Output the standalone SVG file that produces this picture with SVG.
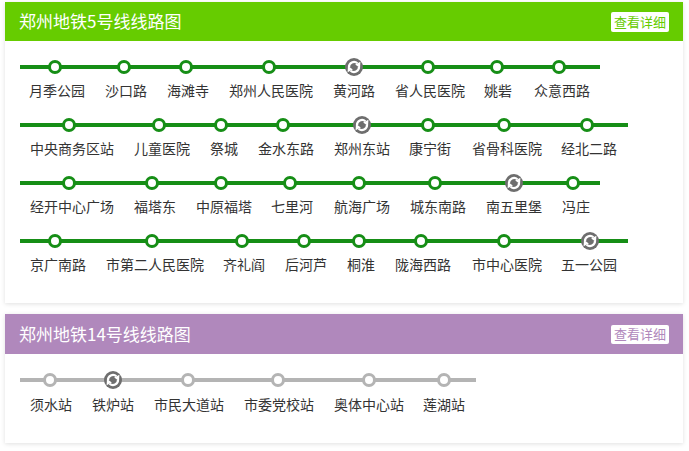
<svg xmlns="http://www.w3.org/2000/svg" xmlns:xlink="http://www.w3.org/1999/xlink" width="689" height="451" viewBox="0 0 689 451">
<style>
.title{font-family:"Noto Sans CJK SC","Liberation Sans",sans-serif;font-size:17px;fill:#fff}
.btn{font-family:"Noto Sans CJK SC","Liberation Sans",sans-serif;font-size:13px;text-anchor:middle}
.lbl{font-family:"Noto Sans CJK SC","Liberation Sans",sans-serif;font-size:14px;fill:#333;text-anchor:middle}
.g5{stroke:#168e16;stroke-width:4;fill:none}
.g14{stroke:#b4b4b4;stroke-width:4;fill:none}
.s5{fill:#fff;stroke:#168e16;stroke-width:3}
.s14{fill:#fff;stroke:#b4b4b4;stroke-width:3}
</style>
<defs>
<filter id="sh" x="-5%" y="-5%" width="110%" height="115%">
<feDropShadow dx="0" dy="1" stdDeviation="2" flood-color="#000" flood-opacity="0.12"/>
</filter>
<g id="xf">
<circle r="9" fill="#6e6e6e"/>
<path d="M-5,0.3 A5,5 0 0 1 3.4,-3.7" stroke="#fff" stroke-width="2.2" fill="none"/>
<path d="M5,-0.3 A5,5 0 0 1 -3.4,3.7" stroke="#fff" stroke-width="2.2" fill="none"/>
<path d="M6.4,-5.2 L6,1 L1.2,-2.4 Z" fill="#fff"/>
<path d="M-6.4,5.2 L-6,-1 L-1.2,2.4 Z" fill="#fff"/>
</g>
</defs>
<rect width="689" height="451" fill="#fff"/>

<g id="card5">
<rect x="5" y="2" width="678" height="301" fill="#fff" filter="url(#sh)"/>
<rect x="5" y="2" width="678" height="39" fill="#66cc00"/>
<text class="title" x="19" y="28">郑州地铁5号线线路图</text>
<rect x="611" y="12" width="58" height="20" rx="2" fill="#fff"/>
<text class="btn" x="640" y="26.5" fill="#66cc00">查看详细</text>
</g>

<g id="card14">
<rect x="5" y="314" width="678" height="129" fill="#fff" filter="url(#sh)"/>
<rect x="5" y="314" width="678" height="40" fill="#b088bc"/>
<text class="title" x="19" y="341">郑州地铁14号线线路图</text>
<rect x="611" y="325" width="58" height="19" rx="2" fill="#fff"/>
<text class="btn" x="640" y="339" fill="#b088bc">查看详细</text>
</g>

<g id="connectors">
<line class="g5" x1="20" y1="67" x2="600" y2="67"/>
<line class="g5" x1="20" y1="125" x2="628" y2="125"/>
<line class="g5" x1="20" y1="183" x2="600" y2="183"/>
<line class="g5" x1="20" y1="241" x2="628" y2="241"/>
<line class="g14" x1="20" y1="380" x2="476" y2="380"/>
</g>

<g id="row1">
<g id="s-yuejigongyuan"><circle class="s5" cx="55" cy="67" r="5.5"/><text class="lbl" x="57" y="96">月季公园</text></g>
<g id="s-shakoulu"><circle class="s5" cx="124" cy="67" r="5.5"/><text class="lbl" x="126" y="96">沙口路</text></g>
<g id="s-haitansi"><circle class="s5" cx="186" cy="67" r="5.5"/><text class="lbl" x="188" y="96">海滩寺</text></g>
<g id="s-zzrmyy"><circle class="s5" cx="269" cy="67" r="5.5"/><text class="lbl" x="271" y="96">郑州人民医院</text></g>
<g id="s-huanghelu"><use xlink:href="#xf" x="354" y="67"/><text class="lbl" x="354" y="96">黄河路</text></g>
<g id="s-srmyy"><circle class="s5" cx="428" cy="67" r="5.5"/><text class="lbl" x="430" y="96">省人民医院</text></g>
<g id="s-yaozi"><circle class="s5" cx="497" cy="67" r="5.5"/><text class="lbl" x="498" y="96">姚砦</text></g>
<g id="s-zhongyixilu"><circle class="s5" cx="559" cy="67" r="5.5"/><text class="lbl" x="562" y="96">众意西路</text></g>
</g>

<g id="row2">
<g id="s-cbd"><circle class="s5" cx="69" cy="125" r="5.5"/><text class="lbl" x="72" y="154">中央商务区站</text></g>
<g id="s-etyy"><circle class="s5" cx="159" cy="125" r="5.5"/><text class="lbl" x="162" y="154">儿童医院</text></g>
<g id="s-jicheng"><circle class="s5" cx="221" cy="125" r="5.5"/><text class="lbl" x="224" y="154">祭城</text></g>
<g id="s-jsdl"><circle class="s5" cx="283" cy="125" r="5.5"/><text class="lbl" x="286" y="154">金水东路</text></g>
<g id="s-zzdz"><use xlink:href="#xf" x="362" y="125"/><text class="lbl" x="362" y="154">郑州东站</text></g>
<g id="s-kangningjie"><circle class="s5" cx="428" cy="125" r="5.5"/><text class="lbl" x="430" y="154">康宁街</text></g>
<g id="s-sgkyy"><circle class="s5" cx="504" cy="125" r="5.5"/><text class="lbl" x="507" y="154">省骨科医院</text></g>
<g id="s-jbel"><circle class="s5" cx="587" cy="125" r="5.5"/><text class="lbl" x="589" y="154">经北二路</text></g>
</g>

<g id="row3">
<g id="s-jkzxgc"><circle class="s5" cx="69" cy="183" r="5.5"/><text class="lbl" x="72" y="212">经开中心广场</text></g>
<g id="s-futadong"><circle class="s5" cx="152" cy="183" r="5.5"/><text class="lbl" x="155" y="212">福塔东</text></g>
<g id="s-zyft"><circle class="s5" cx="221" cy="183" r="5.5"/><text class="lbl" x="224" y="212">中原福塔</text></g>
<g id="s-qilihe"><circle class="s5" cx="290" cy="183" r="5.5"/><text class="lbl" x="292" y="212">七里河</text></g>
<g id="s-hhgc"><circle class="s5" cx="359" cy="183" r="5.5"/><text class="lbl" x="362" y="212">航海广场</text></g>
<g id="s-cdnl"><circle class="s5" cx="435" cy="183" r="5.5"/><text class="lbl" x="438" y="212">城东南路</text></g>
<g id="s-nwlb"><use xlink:href="#xf" x="514" y="183"/><text class="lbl" x="514" y="212">南五里堡</text></g>
<g id="s-fengzhuang"><circle class="s5" cx="573" cy="183" r="5.5"/><text class="lbl" x="576" y="212">冯庄</text></g>
</g>

<g id="row4">
<g id="s-jgnl"><circle class="s5" cx="55" cy="241" r="5.5"/><text class="lbl" x="58" y="270">京广南路</text></g>
<g id="s-sdermyy"><circle class="s5" cx="152" cy="241" r="5.5"/><text class="lbl" x="155" y="270">市第二人民医院</text></g>
<g id="s-qilige"><circle class="s5" cx="242" cy="241" r="5.5"/><text class="lbl" x="244" y="270">齐礼阎</text></g>
<g id="s-houhelu"><circle class="s5" cx="304" cy="241" r="5.5"/><text class="lbl" x="306" y="270">后河芦</text></g>
<g id="s-tonghuai"><circle class="s5" cx="359" cy="241" r="5.5"/><text class="lbl" x="361" y="270">桐淮</text></g>
<g id="s-lhxl"><circle class="s5" cx="421" cy="241" r="5.5"/><text class="lbl" x="423" y="270">陇海西路</text></g>
<g id="s-szxyy"><circle class="s5" cx="504" cy="241" r="5.5"/><text class="lbl" x="507" y="270">市中心医院</text></g>
<g id="s-wygy"><use xlink:href="#xf" x="590" y="241"/><text class="lbl" x="589" y="270">五一公园</text></g>
</g>

<g id="row14">
<g id="s-xushui"><circle class="s14" cx="50" cy="380" r="5.5"/><text class="lbl" x="51" y="410">须水站</text></g>
<g id="s-tielu"><use xlink:href="#xf" x="113" y="380"/><text class="lbl" x="113" y="410">铁炉站</text></g>
<g id="s-smddz"><circle class="s14" cx="188" cy="380" r="5.5"/><text class="lbl" x="189" y="410">市民大道站</text></g>
<g id="s-swdxz"><circle class="s14" cx="278" cy="380" r="5.5"/><text class="lbl" x="279" y="410">市委党校站</text></g>
<g id="s-atzxz"><circle class="s14" cx="369" cy="380" r="5.5"/><text class="lbl" x="369" y="410">奥体中心站</text></g>
<g id="s-lianhu"><circle class="s14" cx="444" cy="380" r="5.5"/><text class="lbl" x="444" y="410">莲湖站</text></g>
</g>
</svg>
